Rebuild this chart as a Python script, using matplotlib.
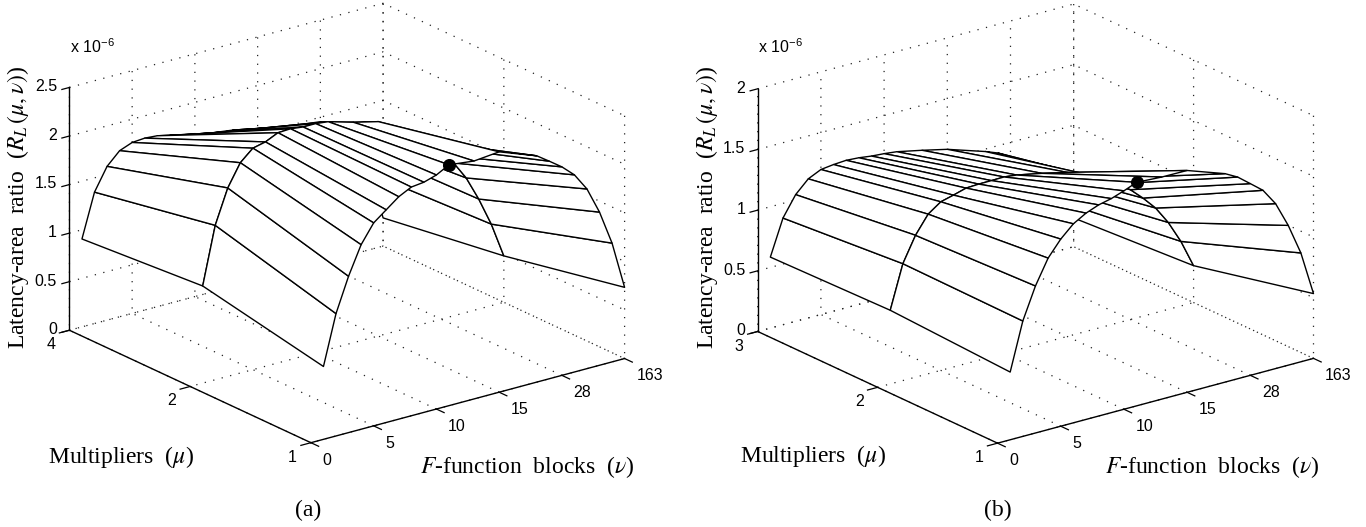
import matplotlib
matplotlib.use("Agg")
import matplotlib.pyplot as plt
import numpy as np

plt.rcParams['font.family'] = ['Liberation Sans', 'DejaVu Sans']
plt.rcParams['mathtext.fontset'] = 'stix'
plt.rcParams['grid.linestyle'] = (0, (1, 6))
plt.rcParams['grid.linewidth'] = 0.9
plt.rcParams['grid.color'] = '#222222'
plt.rcParams['xtick.labelsize'] = 11.5
plt.rcParams['ytick.labelsize'] = 11.5

# nu axis is categorical: ticks evenly spaced, samples in between
nu_ticks = [0, 1, 2, 3, 4, 5]
nu_labels = ['0', '5', '10', '15', '28', '163']
nu_samples = [0.2, 0.4, 0.6, 0.8, 1.0, 1.2, 1.4, 1.6, 1.8, 2.0, 2.2, 2.6, 3.0,
              3.6, 3.8, 4.0, 4.2, 4.4, 4.6, 4.8, 5.0]
mu_samples = [0, 1, 2]

# panel (a), x 1e-6
a_mu_labels = ['1', '2', '4']
a_z_ticks = [0, 0.5, 1, 1.5, 2, 2.5]
a_z_labels = ['0', '0.5', '1', '1.5', '2', '2.5']
a_mu1 = [0.75, 1.26, 1.61, 1.90, 2.09, 2.19, 2.29, 2.355, 2.37, 2.41, 2.48, 2.45, 2.475,
         2.33, 2.24, 2.147, 2.03, 1.85, 1.577, 1.223, 0.733]
a_mu2 = [1.00, 1.59, 1.94, 2.165, 2.28, 2.31, 2.37, 2.376, 2.36, 2.36, 2.345, 2.27, 2.207,
         1.916, 1.82, 1.69, 1.574, 1.385, 1.133, 0.84, 0.478]
a_mu4 = [0.905, 1.353, 1.583, 1.71, 1.76, 1.77, 1.76, 1.73, 1.70, 1.67, 1.645, 1.61, 1.556,
         1.49, 1.47, 1.454, 1.40, 1.28, 1.10, 0.78, 0.29]
a_best = (2.2, 0, 2.48)

# panel (b), x 1e-6
b_mu_labels = ['1', '2', '3']
b_z_ticks = [0, 0.5, 1, 1.5, 2]
b_z_labels = ['0', '0.5', '1', '1.5', '2']
b_mu1 = [0.558, 0.951, 1.212, 1.413, 1.542, 1.64, 1.70, 1.74, 1.764, 1.80, 1.842, 1.83, 1.828,
         1.718, 1.662, 1.58, 1.497, 1.359, 1.152, 0.897, 0.534]
b_mu2 = [0.607, 0.963, 1.169, 1.315, 1.389, 1.416, 1.446, 1.451, 1.452, 1.454, 1.442, 1.40, 1.352,
         1.218, 1.148, 1.07, 0.973, 0.863, 0.716, 0.532, 0.304]
b_mu3 = [0.585, 0.879, 1.044, 1.146, 1.195, 1.208, 1.215, 1.208, 1.194, 1.186, 1.174, 1.13, 1.082,
         0.98, 0.94, 0.88, 0.78, 0.68, 0.55, 0.40, 0.237]
b_best = (2.2, 0, 1.842)

W, H = 1366, 527
fig = plt.figure(figsize=(W / 100, H / 100), dpi=100)


def panel(left, bottom, aspect, z_vals, best, mu_labels, z_ticks, z_labels):
    ax = fig.add_axes([left / W, bottom / H, 600 / W, 600 / H], projection='3d', proj_type='ortho')
    ax.patch.set_visible(False)
    ax.computed_zorder = False
    ax.view_init(elev=20.7, azim=-127.2)
    ax.set_box_aspect(aspect)

    X, Y = np.meshgrid(nu_samples, mu_samples)
    Z = np.array(z_vals)
    ax.plot_surface(X, Y, Z, rstride=1, cstride=1, color='white', edgecolor='black',
                    linewidth=1.0, shade=False, zorder=2)
    ax.plot([best[0]], [best[1]], [best[2]], 'o', color='black', ms=8.4, zorder=5)

    ax.set_xlim(0, 5)
    ax.set_ylim(0, 2)
    ax.set_zlim(z_ticks[0], z_ticks[-1])
    ax.set_xticks(nu_ticks, nu_labels)
    ax.set_yticks(mu_samples, mu_labels)
    ax.set_zticks(z_ticks, z_labels)

    for axis in (ax.xaxis, ax.yaxis, ax.zaxis):
        axis.set_pane_color((1, 1, 1, 0))
        axis.pane.set_edgecolor('none')
        axis.line.set_color('black')
        axis.line.set_linewidth(1.0)
        # at this view "inward" is the side away from the box
        axis._axinfo['tick'].update(inward_factor=0.4, outward_factor=0.0)
        axis._axinfo['tick']['linewidth'] = {True: 0.9, False: 0.9}
    ax.zaxis._axinfo['tick'].update(inward_factor=0.3)
    ax.zaxis.set_ticks_position('upper')
    ax.tick_params(axis='x', pad=3)
    ax.tick_params(axis='y', pad=2)
    ax.tick_params(axis='z', pad=-3, labelsize=11.5)
    for lab in ax.get_xticklabels():
        lab.set_ha('left')
        lab.set_va('center')
    for lab in ax.get_yticklabels():
        lab.set_ha('right')
        lab.set_va('center')
    for lab in ax.get_zticklabels():
        lab.set_ha('right')
        lab.set_va('center')
    return ax


ax_a = panel(38.9, -4.1, (393, 398.6, 259), [a_mu1, a_mu2, a_mu4], a_best,
             a_mu_labels, a_z_ticks, a_z_labels)
ax_b = panel(727.5, -4.7, (396, 396, 259), [b_mu1, b_mu2, b_mu3], b_best,
             b_mu_labels, b_z_ticks, b_z_labels)


def px(x, y):
    return x / W, 1 - y / H


serif = ['Liberation Serif', 'DejaVu Serif']
for zlab_x, mul_x, mul_y, f_x, f_y, cap_x, cap, mag_x in [
    (18, 121, 457, 527, 467, 308, '(a)', 70),
    (707, 813, 456, 1212, 467, 998, '(b)', 758),
]:
    fig.text(*px(zlab_x, 207), r'Latency-area  ratio  ($R_L\,(\mu,\nu)$)', rotation=90,
             ha='center', va='center', family=serif, fontsize=17)
    fig.text(*px(mul_x, mul_y), r'Multipliers  ($\mu$)', ha='center', va='center', family=serif, fontsize=17)
    fig.text(*px(f_x, f_y), r'$F$-function  blocks  ($\nu$)', ha='center', va='center', family=serif, fontsize=17)
    fig.text(*px(cap_x, 510), cap, ha='center', va='center', family=serif, fontsize=17)
    fig.text(*px(mag_x, 46), r'x 10$^{\mathregular{-6}}$', ha='left', va='center', fontsize=11.5)

fig.savefig('out.png', dpi=100)
